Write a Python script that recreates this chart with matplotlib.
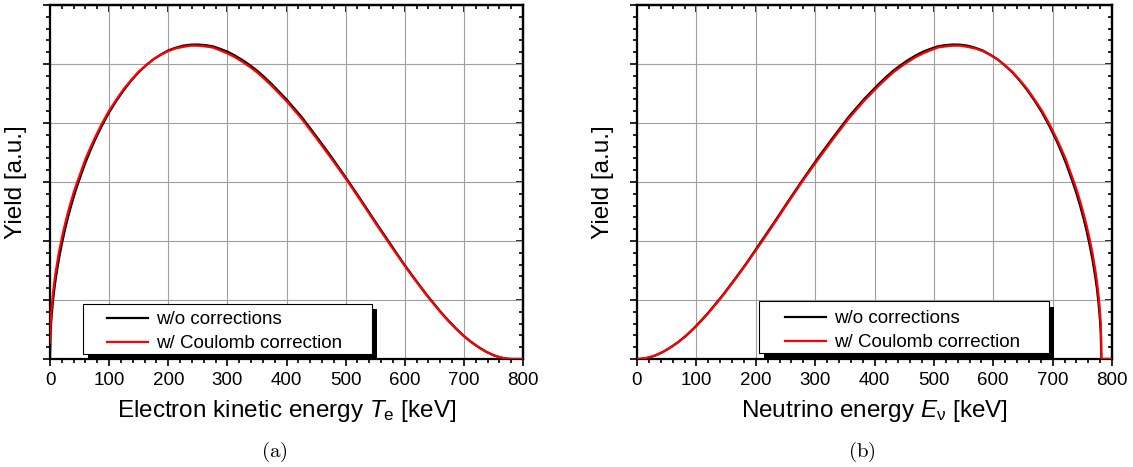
import matplotlib
matplotlib.use('Agg')
import matplotlib.pyplot as plt
from matplotlib.patches import Rectangle
from matplotlib.ticker import MultipleLocator, NullFormatter

plt.rcParams['font.family'] = ['Liberation Sans', 'DejaVu Sans']
plt.rcParams['mathtext.fontset'] = 'custom'
plt.rcParams['mathtext.rm'] = 'Liberation Sans'
plt.rcParams['mathtext.it'] = 'Liberation Sans:italic'

# electron kinetic energy spectrum (keV, yield a.u.)
te = [0, 1, 2, 3, 5, 7.5, 10, 15, 20, 25,
      30, 35, 40, 45, 50, 60, 67.5, 75, 87.5, 100,
      112.5, 125, 137.5, 150, 162.5, 175, 187.5, 200, 212.5, 225,
      237.5, 250, 262.5, 275, 287.5, 300, 312.5, 325, 337.5, 350,
      362.5, 375, 400, 425, 450, 475, 500, 525, 550, 575,
      587.5, 600, 612.5, 625, 637.5, 650, 662.5, 675, 687.5, 700,
      712.5, 725, 737.5, 750, 757.5, 765, 775, 782, 800]
te_plain = [0, 0.44, 0.62, 0.759, 0.98, 1.20, 1.385, 1.69, 1.95, 2.181,
            2.385, 2.572, 2.744, 2.904, 3.05, 3.33, 3.515, 3.69, 3.948, 4.18,
            4.38, 4.56, 4.72, 4.86, 4.977, 5.08, 5.16, 5.23, 5.275, 5.31,
            5.327, 5.33, 5.32, 5.30, 5.258, 5.21, 5.145, 5.07, 4.984, 4.89,
            4.779, 4.66, 4.40, 4.11, 3.78, 3.44, 3.08, 2.71, 2.33, 1.96,
            1.774, 1.59, 1.418, 1.25, 1.083, 0.93, 0.777, 0.64, 0.509, 0.39,
            0.288, 0.20, 0.124, 0.065, 0.039, 0.019, 0.003, 0, 0]
te_coul = [0.28, 0.60, 0.77, 0.90, 1.11, 1.32, 1.50, 1.80, 2.05, 2.27,
           2.47, 2.65, 2.82, 2.97, 3.11, 3.39, 3.564, 3.73, 3.984, 4.21,
           4.40, 4.58, 4.73, 4.87, 4.98, 5.08, 5.155, 5.22, 5.263, 5.29,
           5.31, 5.31, 5.298, 5.28, 5.232, 5.18, 5.117, 5.04, 4.954, 4.86,
           4.748, 4.63, 4.37, 4.08, 3.75, 3.41, 3.06, 2.69, 2.31, 1.94,
           1.759, 1.58, 1.405, 1.24, 1.073, 0.92, 0.770, 0.63, 0.504, 0.386,
           0.285, 0.198, 0.123, 0.064, 0.039, 0.019, 0.003, 0, 0]

# neutrino energy spectrum
enu = [0, 7, 17, 24.5, 32, 44.5, 57, 69.5, 82, 94.5,
       107, 119.5, 132, 144.5, 157, 169.5, 182, 194.5, 207, 232,
       257, 282, 307, 332, 357, 382, 407, 419.5, 432, 444.5,
       457, 469.5, 482, 494.5, 507, 519.5, 532, 544.5, 557, 569.5,
       582, 594.5, 607, 619.5, 632, 644.5, 657, 669.5, 682, 694.5,
       707, 714.5, 722, 732, 737, 742, 747, 752, 757, 762,
       767, 772, 774.5, 777, 779, 780, 781, 782, 782, 800]
enu_plain = [0, 0.003, 0.019, 0.039, 0.065, 0.124, 0.20, 0.288, 0.39, 0.509,
             0.64, 0.777, 0.93, 1.083, 1.25, 1.418, 1.59, 1.774, 1.96, 2.33,
             2.71, 3.08, 3.44, 3.78, 4.11, 4.40, 4.66, 4.779, 4.89, 4.984,
             5.07, 5.145, 5.21, 5.258, 5.30, 5.32, 5.33, 5.327, 5.31, 5.275,
             5.23, 5.16, 5.08, 4.977, 4.86, 4.72, 4.56, 4.38, 4.18, 3.948,
             3.69, 3.515, 3.33, 3.05, 2.904, 2.744, 2.572, 2.385, 2.181, 1.95,
             1.69, 1.385, 1.20, 0.98, 0.759, 0.62, 0.44, 0, 0, 0]
enu_coul = [0, 0.003, 0.019, 0.039, 0.064, 0.123, 0.198, 0.285, 0.386, 0.504,
            0.63, 0.770, 0.92, 1.073, 1.24, 1.405, 1.58, 1.759, 1.94, 2.31,
            2.69, 3.06, 3.41, 3.75, 4.08, 4.37, 4.63, 4.748, 4.86, 4.954,
            5.04, 5.117, 5.18, 5.232, 5.28, 5.298, 5.31, 5.31, 5.29, 5.263,
            5.22, 5.155, 5.08, 4.98, 4.87, 4.73, 4.58, 4.40, 4.21, 3.984,
            3.73, 3.564, 3.39, 3.11, 2.97, 2.82, 2.65, 2.47, 2.27, 2.05,
            1.80, 1.50, 1.32, 1.11, 0.90, 0.77, 0.60, 0.28, 0, 0]

labels = ['w/o corrections', 'w/ Coulomb correction']

W, H = 1133, 467
fig = plt.figure(figsize=(W / 100, H / 100), dpi=100)
ax1 = fig.add_axes([50 / W, 108 / H, 473 / W, 354 / H])
ax2 = fig.add_axes([637 / W, 108 / H, 475 / W, 354 / H])

tick_fs = 13.5
label_fs = 17.5


def style(ax):
    ax.set_xlim(0, 800)
    ax.set_ylim(0, 6)
    ax.xaxis.set_major_locator(MultipleLocator(100))
    ax.xaxis.set_minor_locator(MultipleLocator(20))
    ax.yaxis.set_major_locator(MultipleLocator(1))
    ax.yaxis.set_minor_locator(MultipleLocator(0.2))
    ax.yaxis.set_major_formatter(NullFormatter())
    ax.tick_params(which='major', direction='out', length=5, width=1.2, labelsize=tick_fs, pad=4.5)
    ax.tick_params(which='minor', direction='out', length=2.8, width=1.2)
    ax.grid(True, which='major', color='#a0a0a0', linewidth=0.8)
    ax.set_axisbelow(True)
    for s in ax.spines.values():
        s.set_linewidth(1.6)

    top = ax.secondary_xaxis('top')
    top.xaxis.set_major_locator(MultipleLocator(100))
    top.xaxis.set_minor_locator(MultipleLocator(20))
    top.xaxis.set_major_formatter(NullFormatter())
    top.tick_params(which='major', direction='in', length=5, width=1.2)
    top.tick_params(which='minor', direction='in', length=2.8, width=1.2)
    top.spines['top'].set_linewidth(1.6)

    right = ax.secondary_yaxis('right')
    right.yaxis.set_major_locator(MultipleLocator(1))
    right.yaxis.set_minor_locator(MultipleLocator(0.2))
    right.yaxis.set_major_formatter(NullFormatter())
    right.tick_params(which='major', direction='in', length=5, width=1.2)
    right.tick_params(which='minor', direction='in', length=2.8, width=1.2)
    right.spines['right'].set_linewidth(1.6)

    ax.set_ylabel('Yield [a.u.]', fontsize=label_fs, labelpad=7)


def legend_box(ax, frame, shadow, anchor):
    ax.add_patch(Rectangle((shadow[0], shadow[1]), shadow[2] - shadow[0], shadow[3] - shadow[1],
                           transform=ax.transAxes, facecolor='black', edgecolor='none',
                           zorder=5, clip_on=False))
    ax.add_patch(Rectangle((frame[0], frame[1]), frame[2] - frame[0], frame[3] - frame[1],
                           transform=ax.transAxes, facecolor='white', edgecolor='black',
                           linewidth=0.8, zorder=6, clip_on=False))
    leg = ax.legend(loc='center left', bbox_to_anchor=anchor, frameon=False,
                    fontsize=tick_fs, handlelength=2.2, handletextpad=0.42,
                    labelspacing=0.38, borderpad=0, borderaxespad=0)
    leg.set_zorder(7)


for ax, x, yp, yc in ((ax1, te, te_plain, te_coul), (ax2, enu, enu_plain, enu_coul)):
    style(ax)
    ax.plot(x, yp, color='black', linewidth=1.6, label=labels[0], zorder=3)
    ax.plot(x, yc, color='#ff0000', linewidth=1.6, label=labels[1], zorder=4)

ax1.set_xlabel(r'Electron kinetic energy $T_{\mathrm{e}}$ [keV]', fontsize=label_fs, labelpad=6)
ax2.set_xlabel(r'Neutrino energy $E_{\mathrm{\nu}}$ [keV]', fontsize=label_fs, labelpad=6)

legend_box(ax1, (0.0691, 0.0141, 0.680, 0.1554), (0.0803, 0.0, 0.6913, 0.1412), (0.1205, 0.077))
legend_box(ax2, (0.2562, 0.0161, 0.8674, 0.163), (0.2674, 0.0, 0.8779, 0.147), (0.3116, 0.080))

fig.text(274 / W, 1 - 452 / H, r'$\mathrm{(a)}$', ha='center', va='center', fontsize=15,
         math_fontfamily='cm')
fig.text(862 / W, 1 - 452 / H, r'$\mathrm{(b)}$', ha='center', va='center', fontsize=15,
         math_fontfamily='cm')

fig.savefig('out.png', dpi=100)
